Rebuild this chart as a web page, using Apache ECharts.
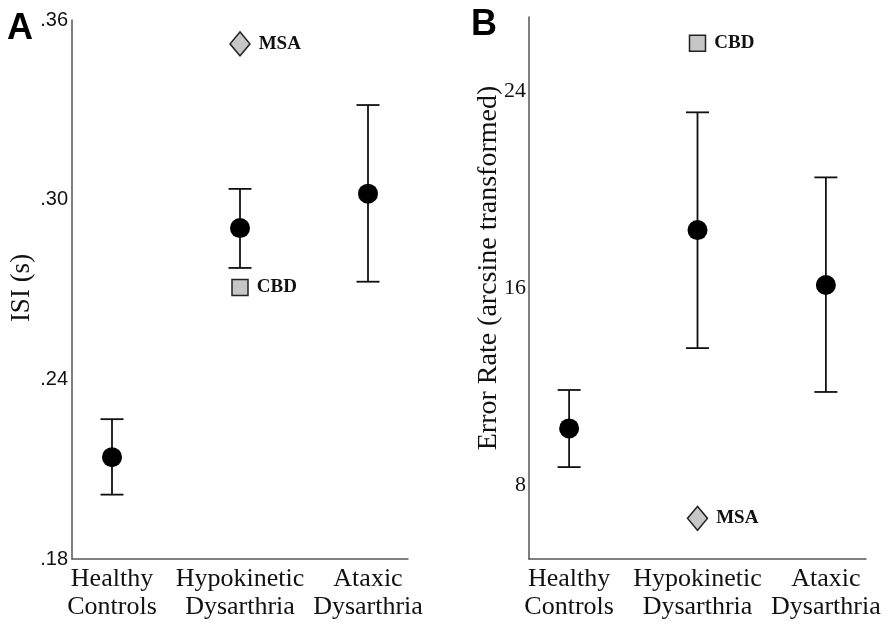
<!DOCTYPE html>
<html>
<head>
    <meta charset="utf-8">
    <title>ISI and Error Rate by group</title>
    <script src="https://cdn.jsdelivr.net/npm/echarts@6/dist/echarts.min.js"></script>
    <style>
        html, body { margin: 0; padding: 0; background: #fff; }
        #chart { width: 892px; height: 631px; }
    </style>
</head>
<body>
    <div id="chart"></div>
    <script>
        // groups on the x axis (positions 0, 1, 2)
        const groups = ['Healthy\nControls', 'Hypokinetic\nDysarthria', 'Ataxic\nDysarthria'];

        // panel A: ISI (s)
        const isiMean = [0.214, 0.2905, 0.302];
        const isiLow = [0.2015, 0.2772, 0.2726];
        const isiHigh = [0.2267, 0.3036, 0.3316];
        const isiTicks = [0.18, 0.24, 0.30, 0.36];
        const isiMSA = [1, 0.352];
        const isiCBD = [1, 0.2707];

        // panel B: error rate (arcsine transformed)
        const errMean = [10.3, 18.35, 16.12];
        const errLow = [8.73, 13.56, 11.78];
        const errHigh = [11.86, 23.13, 20.49];
        const errTicks = [8, 16, 24];
        const errMSA = [1, 6.65];
        const errCBD = [1, 25.93];

        const serif = '"Liberation Serif", "DejaVu Serif", serif';
        const sans = '"Liberation Sans", Arial, sans-serif';
        const axisColor = '#555';

        function xAxisFor(gridIndex) {
            return {
                gridIndex: gridIndex,
                type: 'value',
                min: -0.3125,
                max: 2.3125,
                splitLine: { show: false },
                axisTick: { show: false },
                axisLine: { show: true, onZero: false, lineStyle: { color: axisColor, width: 1.5 } },
                axisLabel: {
                    customValues: [0, 1, 2],
                    formatter: v => groups[Math.round(v)],
                    color: '#111',
                    fontFamily: serif,
                    fontSize: 26,
                    lineHeight: 28,
                    margin: 6
                }
            };
        }

        // error bars with caps
        function errorBars(xi, yi, low, high) {
            return {
                type: 'custom',
                xAxisIndex: xi,
                yAxisIndex: yi,
                data: low.map((l, i) => [i, l, high[i]]),
                renderItem: function (params, api) {
                    const lo = api.coord([api.value(0), api.value(1)]);
                    const hi = api.coord([api.value(0), api.value(2)]);
                    const cap = 11.5;
                    const style = { stroke: '#111', lineWidth: 1.8 };
                    return {
                        type: 'group',
                        children: [
                            { type: 'line', shape: { x1: lo[0], y1: lo[1], x2: hi[0], y2: hi[1] }, style: style },
                            { type: 'line', shape: { x1: lo[0] - cap, y1: lo[1], x2: lo[0] + cap, y2: lo[1] }, style: style },
                            { type: 'line', shape: { x1: hi[0] - cap, y1: hi[1], x2: hi[0] + cap, y2: hi[1] }, style: style }
                        ]
                    };
                },
                z: 2
            };
        }

        function means(xi, yi, vals) {
            return {
                type: 'scatter',
                xAxisIndex: xi,
                yAxisIndex: yi,
                data: vals.map((v, i) => [i, v]),
                symbol: 'circle',
                symbolSize: 20,
                itemStyle: { color: '#000', opacity: 1 },
                z: 3
            };
        }

        function single(xi, yi, point, name, symbol, size) {
            return {
                type: 'scatter',
                xAxisIndex: xi,
                yAxisIndex: yi,
                data: [point],
                symbol: symbol,
                symbolSize: size,
                itemStyle: { color: '#c6c6c6', borderColor: '#222', borderWidth: 1.5, opacity: 1 },
                label: {
                    show: true,
                    position: 'right',
                    distance: 8,
                    formatter: name,
                    color: '#111',
                    fontFamily: serif,
                    fontWeight: 'bold',
                    fontSize: 19
                },
                z: 3
            };
        }

        const chart = echarts.init(document.getElementById('chart'));
        chart.setOption({
            animation: false,
            backgroundColor: '#fff',
            grid: [
                { left: 72, top: 20, width: 336, bottom: 72 },
                { left: 529, top: 17, width: 337, bottom: 72 }
            ],
            xAxis: [xAxisFor(0), xAxisFor(1)],
            yAxis: [
                {
                    gridIndex: 0,
                    type: 'value',
                    min: 0.18,
                    max: 0.36,
                    splitLine: { show: false },
                    axisTick: { show: false },
                    axisLine: { show: true, onZero: false, lineStyle: { color: axisColor, width: 1.5 } },
                    axisLabel: {
                        customValues: isiTicks,
                        formatter: v => v.toFixed(2).replace(/^0/, ''),
                        color: '#111',
                        fontFamily: sans,
                        fontSize: 20,
                        margin: 4
                    }
                },
                {
                    gridIndex: 1,
                    type: 'value',
                    min: 5,
                    max: 27,
                    splitLine: { show: false },
                    axisTick: { show: false },
                    axisLine: { show: true, onZero: false, lineStyle: { color: axisColor, width: 1.5 } },
                    axisLabel: {
                        customValues: errTicks,
                        color: '#111',
                        fontFamily: serif,
                        fontSize: 22,
                        margin: 3
                    }
                }
            ],
            graphic: [
                { type: 'text', left: 7, top: 11, style: { text: 'A', font: 'bold 36px ' + sans, fill: '#000' } },
                { type: 'text', left: 471, top: 7, style: { text: 'B', font: 'bold 36px ' + sans, fill: '#000' } },
                {
                    type: 'text', x: 22, y: 288, rotation: Math.PI / 2,
                    style: { text: 'ISI (s)', font: '27px ' + serif, fill: '#111', align: 'center', verticalAlign: 'middle' }
                },
                {
                    type: 'text', x: 489, y: 268, rotation: Math.PI / 2,
                    style: { text: 'Error Rate (arcsine transformed)', font: '28px ' + serif, fill: '#111', align: 'center', verticalAlign: 'middle' }
                }
            ],
            series: [
                errorBars(0, 0, isiLow, isiHigh),
                means(0, 0, isiMean),
                single(0, 0, isiMSA, 'MSA', 'diamond', [20, 24]),
                single(0, 0, isiCBD, 'CBD', 'rect', 16),
                errorBars(1, 1, errLow, errHigh),
                means(1, 1, errMean),
                single(1, 1, errCBD, 'CBD', 'rect', 16),
                single(1, 1, errMSA, 'MSA', 'diamond', [20, 24])
            ]
        });
    </script>
</body>
</html>
